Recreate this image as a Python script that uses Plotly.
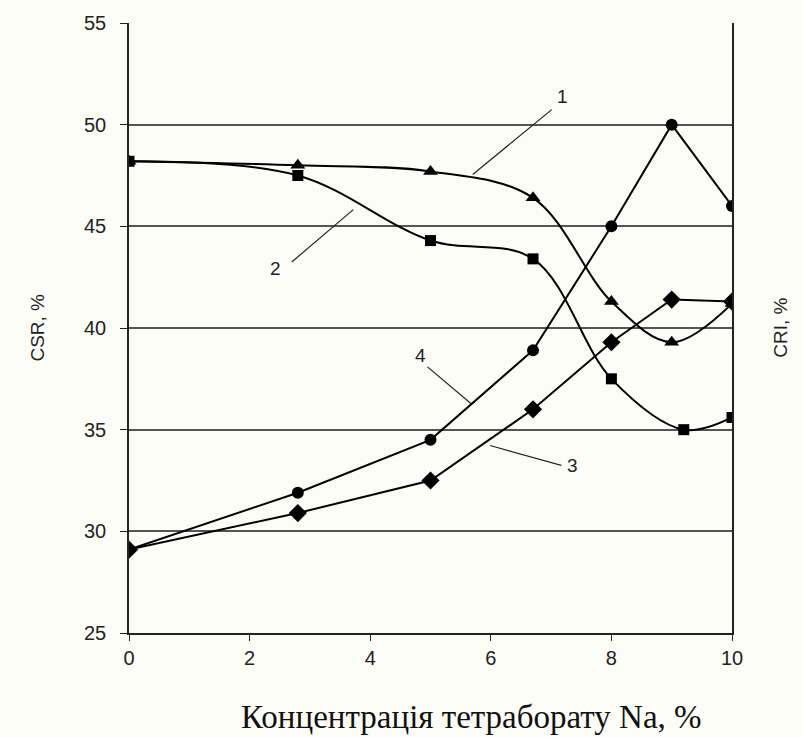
import plotly.graph_objects as go

# Data
x_common = [0, 2.8, 5, 6.7, 8, 9, 10]
x_curve2 = [0, 2.8, 5, 6.7, 8, 9.2, 10]
csr_1 = [48.2, 48.0, 47.7, 46.4, 41.3, 39.3, 41.2]      # curve 1, triangles
csr_2 = [48.2, 47.5, 44.3, 43.4, 37.5, 35.0, 35.6]      # curve 2, squares
cri_3 = [29.1, 30.9, 32.5, 36.0, 39.3, 41.4, 41.3]      # curve 3, diamonds
cri_4 = [29.1, 31.9, 34.5, 38.9, 45.0, 50.0, 46.0]      # curve 4, circles

x_ticks = [0, 2, 4, 6, 8, 10]
y_ticks = [25, 30, 35, 40, 45, 50, 55]

x_title = "Концентрація тетраборату Na, %"
y_title_left = "CSR, %"
y_title_right = "CRI, %"

fig = go.Figure()
line_style = dict(color="black", width=2)

fig.add_trace(go.Scatter(x=x_common, y=csr_1, mode="lines+markers",
                         line=dict(color="black", width=2, shape="spline", smoothing=1.0),
                         marker=dict(symbol="triangle-up", size=13, color="black")))
fig.add_trace(go.Scatter(x=x_curve2, y=csr_2, mode="lines+markers",
                         line=dict(color="black", width=2, shape="spline", smoothing=1.0),
                         marker=dict(symbol="square", size=11, color="black")))
fig.add_trace(go.Scatter(x=x_common, y=cri_3, mode="lines+markers",
                         line=line_style,
                         marker=dict(symbol="diamond", size=14, color="black")))
fig.add_trace(go.Scatter(x=x_common, y=cri_4, mode="lines+markers",
                         line=line_style,
                         marker=dict(symbol="circle", size=12, color="black")))

# Curve labels with leader lines
labels = [
    ("1", 7.19, 51.37, 7.01, 50.74, 5.70, 47.55),
    ("2", 2.43, 42.94, 2.70, 43.25, 3.72, 45.82),
    ("4", 4.83, 38.63, 4.95, 38.09, 5.67, 36.29),
    ("3", 7.36, 33.24, 7.17, 33.24, 5.99, 34.22),
]
for txt, tx, ty, x0, y0, x1, y1 in labels:
    fig.add_annotation(x=tx, y=ty, text=txt, showarrow=False,
                       font=dict(family="Liberation Sans", size=19, color="#222"))
    fig.add_shape(type="line", x0=x0, y0=y0, x1=x1, y1=y1,
                  line=dict(color="#222", width=1.2))

fig.add_annotation(xref="paper", yref="paper", x=0.568, y=-0.138, text=x_title,
                   showarrow=False, yanchor="middle",
                   font=dict(family="Liberation Serif", size=33, color="#111"))
fig.add_annotation(xref="paper", yref="paper", x=-0.174, y=0.5, text=y_title_left,
                   textangle=-90, showarrow=False,
                   font=dict(family="Liberation Sans", size=19, color="#222"))
fig.add_annotation(xref="paper", yref="paper", x=1.1, y=0.5, text=y_title_right,
                   textangle=-90, showarrow=False,
                   font=dict(family="Liberation Sans", size=19, color="#222"))

fig.update_layout(
    width=803, height=737,
    margin=dict(l=129, r=71, t=21, b=104),
    paper_bgcolor="#fdfdf8", plot_bgcolor="#fdfdf8",
    showlegend=False,
    font=dict(family="Liberation Sans", size=20, color="#222"),
)
fig.update_xaxes(range=[0, 10], tickvals=x_ticks, showgrid=False, zeroline=False,
                 showline=True, linecolor="#222", linewidth=1.5,
                 ticks="outside", ticklen=6, tickcolor="#222", tickwidth=1.2,
                 tickfont=dict(size=20, color="#222"))
fig.update_yaxes(range=[25, 55], tickvals=y_ticks, showgrid=True, gridcolor="#555",
                 gridwidth=1.5, zeroline=False,
                 showline=True, linecolor="#222", linewidth=1.5, mirror=True,
                 ticks="outside", ticklen=7, tickcolor="#222", tickwidth=1.2,
                 ticklabelstandoff=10,
                 tickfont=dict(size=20, color="#222"))

fig.write_html("out.html")
